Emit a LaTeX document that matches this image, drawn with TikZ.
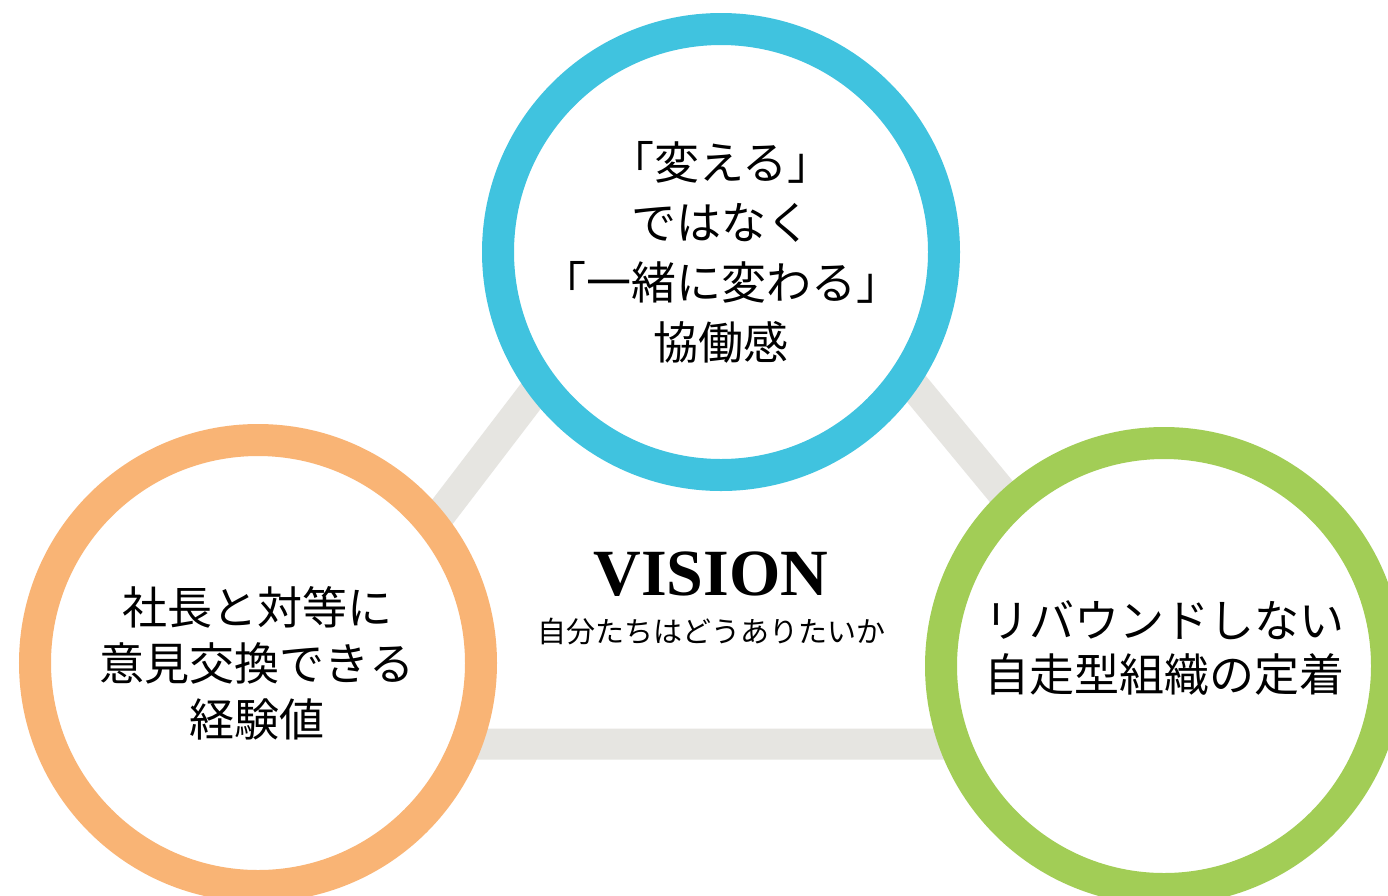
\documentclass[tikz,border=0pt]{standalone}
\usepackage{fontspec}
\setmainfont{Liberation Serif}
\newfontfamily\jp{Noto Sans CJK JP}
\definecolor{cblue}{HTML}{40C3DF}
\definecolor{corange}{HTML}{F9B475}
\definecolor{cgreen}{HTML}{A2CD56}
\definecolor{cgray}{HTML}{E6E5E1}
\tikzset{
  ring/.style={circle, draw, line width=32pt, fill=white, inner sep=0pt, minimum size=446pt},
  band/.style={draw=cgray, line width=31pt},
  big/.style={align=center, font=\jp\fontsize{45}{60}\selectfont, inner sep=0pt},
}
\begin{document}
\begin{tikzpicture}[x=1pt,y=-1pt]
\useasboundingbox (0,0) rectangle (1388,895);
\clip (0,0) rectangle (1388,895);
\fill[white] (0,0) rectangle (1388,895);
\coordinate (tA) at (719,150);
\coordinate (tB) at (265,744);
\coordinate (tC) at (1210,744);
\draw[band] (tA) -- (tB) -- (tC) -- cycle;
\node[ring, draw=cblue] (top) at (721,252) {};
\node[ring, draw=corange] (left) at (258,663) {};
\node[ring, draw=cgreen] (right) at (1164,666) {};
\node[big] (ttop) at (721,252) {「変える」\\ではなく\\「一緒に変わる」\\協働感};
\node[big, font=\jp\fontsize{45}{56}\selectfont] (tleft) at (257,663) {社長と対等に\\意見交換できる\\経験値};
\node[big, font=\jp\fontsize{45}{54}\selectfont] (tright) at (1164,648) {リバウンドしない\\自走型組織の定着};
\node[font=\bfseries\fontsize{66}{70}\selectfont, inner sep=0pt, anchor=base] (vision) at (711,595) {VISION};
\node[font=\jp\fontsize{29}{32}\selectfont, inner sep=0pt] (sub) at (711,632) {自分たちはどうありたいか};
\end{tikzpicture}
\end{document}
